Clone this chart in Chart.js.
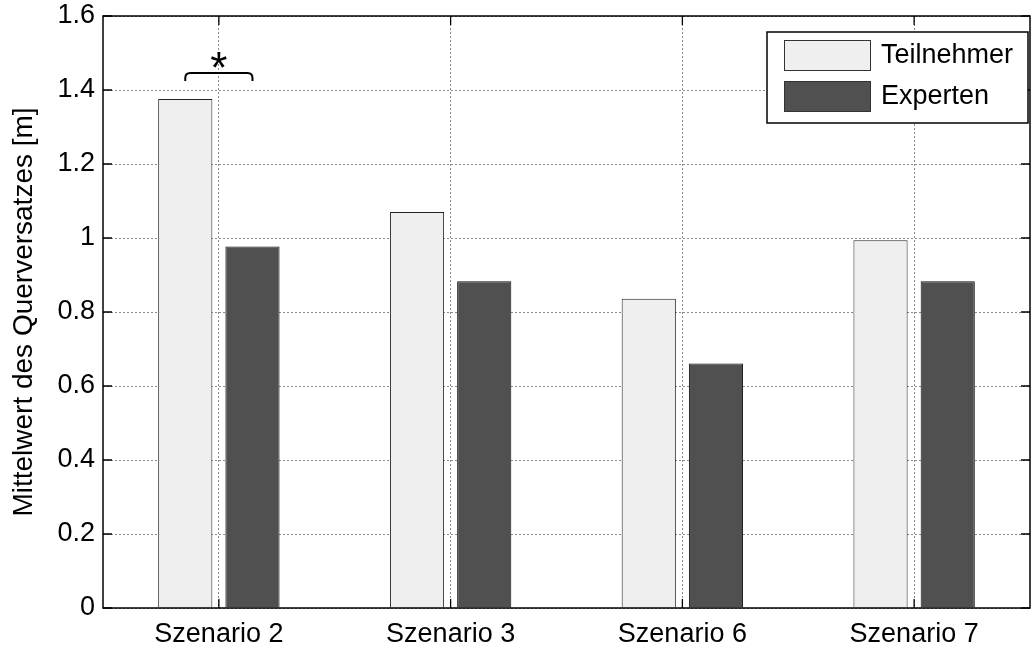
<!DOCTYPE html>
<html>
<head>
<meta charset="utf-8">
<script src="https://cdn.jsdelivr.net/npm/chart.js@4/dist/chart.umd.min.js"></script>
<style>
  html, body { margin: 0; padding: 0; background: #fff; }
  canvas { display: block; }
</style>
</head>
<body>
<canvas id="chart" width="1034" height="648"></canvas>
<script>
// values
const categories = ["Szenario 2", "Szenario 3", "Szenario 6", "Szenario 7"];
const teilnehmer = [1.376, 1.070, 0.836, 0.994];
const experten = [0.977, 0.883, 0.661, 0.883];
const seriesNames = ["Teilnehmer", "Experten"];
const yTicks = [0, 0.2, 0.4, 0.6, 0.8, 1, 1.2, 1.4, 1.6];

// significance marker over Szenario 2
const sigIndex = 0;
const sigBracketTop = 1.446;
const sigBracketFoot = 1.424;
const sigStarLevel = 1.482;

const FONT = "'Liberation Sans', Arial, Helvetica, sans-serif";
const lightGray = "#efefef";
const darkGray = "#505050";

// black frame + inward ticks like matlab
const framePlugin = {
  id: "frame",
  afterDatasetsDraw(chart) {
    const { ctx, chartArea: a, scales } = chart;
    ctx.save();
    ctx.strokeStyle = "#000";
    ctx.lineWidth = 1.5;
    ctx.strokeRect(a.left, a.top, a.right - a.left, a.bottom - a.top);
    ctx.lineWidth = 1.3;
    const len = 9;
    ctx.beginPath();
    scales.y.ticks.forEach((t) => {
      const y = scales.y.getPixelForValue(t.value);
      ctx.moveTo(a.left, y); ctx.lineTo(a.left + len, y);
      ctx.moveTo(a.right, y); ctx.lineTo(a.right - len, y);
    });
    scales.x.ticks.forEach((t, i) => {
      const x = scales.x.getPixelForTick(i);
      ctx.moveTo(x, a.bottom); ctx.lineTo(x, a.bottom - len);
      ctx.moveTo(x, a.top); ctx.lineTo(x, a.top + len);
    });
    ctx.stroke();
    ctx.restore();
  }
};

// bracket with asterisk
const sigPlugin = {
  id: "sig",
  afterDatasetsDraw(chart) {
    const { ctx, scales } = chart;
    const b0 = chart.getDatasetMeta(0).data[sigIndex];
    const b1 = chart.getDatasetMeta(1).data[sigIndex];
    const x0 = b0.x, x1 = b1.x;
    const yTop = scales.y.getPixelForValue(sigBracketTop);
    const yFoot = scales.y.getPixelForValue(sigBracketFoot);
    const r = 5;
    ctx.save();
    ctx.strokeStyle = "#000";
    ctx.lineWidth = 2;
    ctx.beginPath();
    ctx.moveTo(x0, yFoot);
    ctx.lineTo(x0, yTop + r);
    ctx.quadraticCurveTo(x0, yTop, x0 + r, yTop);
    ctx.lineTo(x1 - r, yTop);
    ctx.quadraticCurveTo(x1, yTop, x1, yTop + r);
    ctx.lineTo(x1, yFoot);
    ctx.stroke();

    ctx.fillStyle = "#000";
    ctx.font = "44px " + FONT;
    ctx.textAlign = "center";
    ctx.textBaseline = "alphabetic";
    const m = ctx.measureText("*");
    const yc = scales.y.getPixelForValue(sigStarLevel);
    const base = yc + (m.actualBoundingBoxAscent - m.actualBoundingBoxDescent) / 2;
    ctx.fillText("*", (x0 + x1) / 2, base);
    ctx.restore();
  }
};

// legend box in the upper right corner
const legendPlugin = {
  id: "boxLegend",
  afterDraw(chart) {
    const { ctx, chartArea: a } = chart;
    const w = 261, h = 91;
    const bx = a.right - 2 - w, by = a.top + 16;
    ctx.save();
    ctx.fillStyle = "#fff";
    ctx.fillRect(bx, by, w, h);
    ctx.strokeStyle = "#000";
    ctx.lineWidth = 1.5;
    ctx.strokeRect(bx, by, w, h);
    ctx.font = "27px " + FONT;
    ctx.textBaseline = "middle";
    ctx.textAlign = "left";
    chart.data.datasets.forEach((ds, i) => {
      const sy = by + 8 + i * 41;
      ctx.fillStyle = ds.backgroundColor;
      ctx.fillRect(bx + 17, sy, 87, 31);
      ctx.strokeStyle = "#333";
      ctx.lineWidth = 1;
      ctx.strokeRect(bx + 17.5, sy + 0.5, 86, 30);
      ctx.fillStyle = "#000";
      ctx.fillText(ds.label, bx + 114, sy + 16);
    });
    ctx.restore();
  }
};

new Chart(document.getElementById("chart"), {
  type: "bar",
  data: {
    labels: categories,
    datasets: [
      {
        label: seriesNames[0],
        data: teilnehmer,
        backgroundColor: lightGray,
        borderColor: "#222",
        borderWidth: 1,
        categoryPercentage: 0.58,
        barPercentage: 0.806
      },
      {
        label: seriesNames[1],
        data: experten,
        backgroundColor: darkGray,
        borderColor: "#111",
        borderWidth: 1,
        categoryPercentage: 0.58,
        barPercentage: 0.806
      }
    ]
  },
  options: {
    responsive: false,
    animation: false,
    layout: { padding: { left: 0, right: 4, top: 16, bottom: 0 } },
    plugins: {
      legend: { display: false },
      tooltip: { enabled: false }
    },
    scales: {
      x: {
        grid: { offset: false, drawTicks: false, color: "#8a8a8a", lineWidth: 1 },
        border: { display: false, dash: [2, 2] },
        ticks: { color: "#000", padding: 10, font: { family: FONT, size: 27 } },
        afterFit(scale) { scale.height = 40; }
      },
      y: {
        min: 0,
        max: 1.6,
        afterBuildTicks(scale) { scale.ticks = yTicks.map((v) => ({ value: v })); },
        grid: { drawTicks: false, color: "#8a8a8a", lineWidth: 1 },
        border: { display: false, dash: [2, 2] },
        ticks: {
          color: "#000",
          padding: 8,
          font: { family: FONT, size: 27, lineHeight: 0.5 },
          callback: (v) => String(+Number(v).toFixed(1))
        },
        title: {
          display: true,
          text: "Mittelwert des Querversatzes [m]",
          color: "#000",
          padding: { top: 7, bottom: 0 },
          font: { family: FONT, size: 28 }
        },
        afterFit(scale) { scale.width = 103; }
      }
    }
  },
  plugins: [framePlugin, sigPlugin, legendPlugin]
});
</script>
</body>
</html>
